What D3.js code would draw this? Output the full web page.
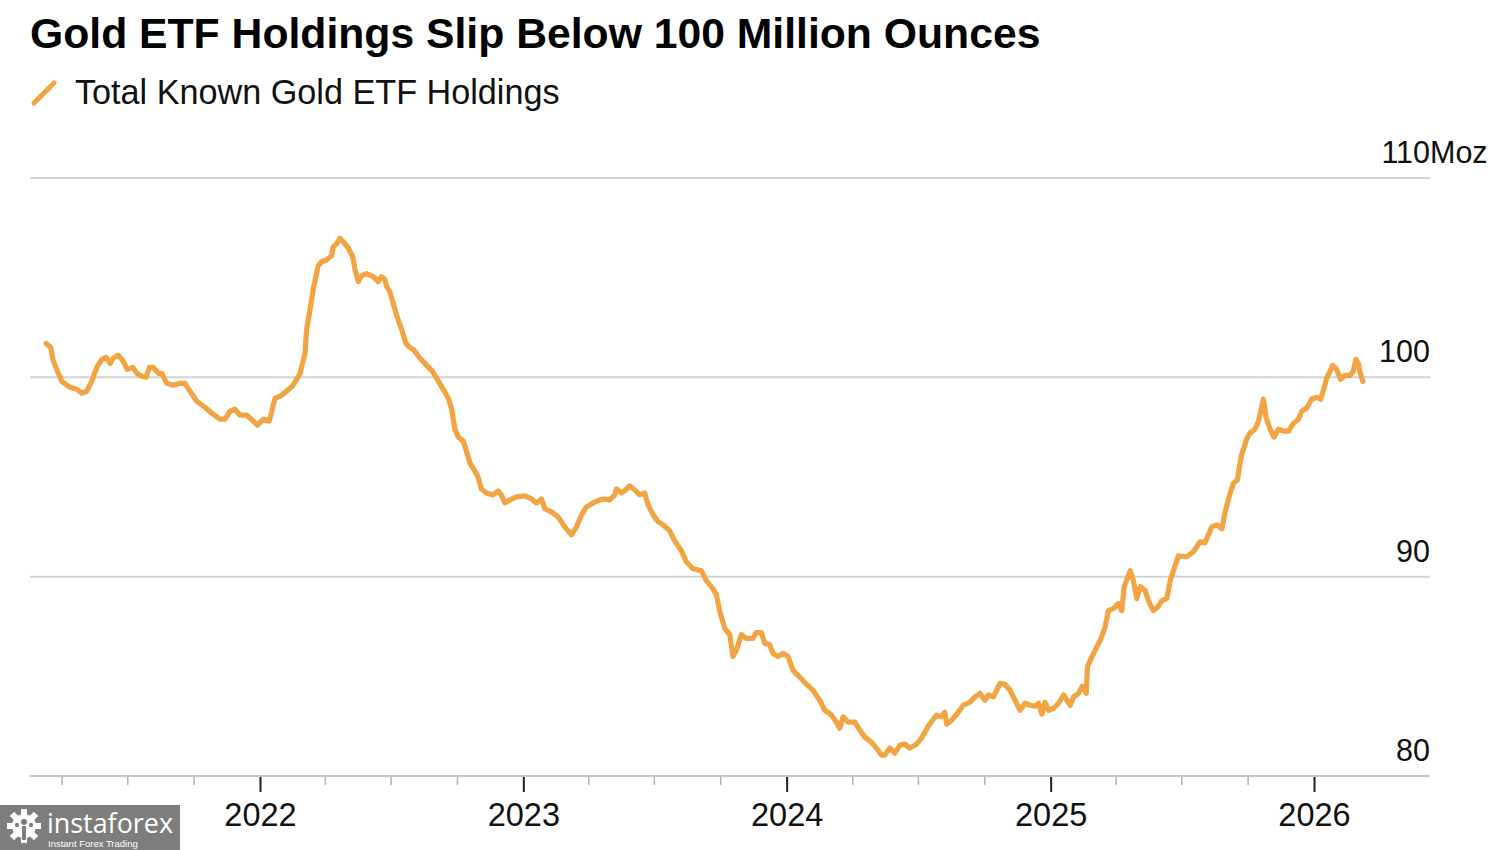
<!DOCTYPE html>
<html>
<head>
<meta charset="utf-8">
<script src="https://cdn.jsdelivr.net/npm/d3@7"></script>
<style>
  html, body { margin: 0; padding: 0; background: #ffffff; }
  svg { display: block; font-family: "Liberation Sans", Arial, Helvetica, sans-serif; }
</style>
</head>
<body>
<svg id="chart" width="1500" height="850"></svg>
<script>
// ---- Data ----
const title = "Gold ETF Holdings Slip Below 100 Million Ounces";
const seriesName = "Total Known Gold ETF Holdings";
const yTicks = [80, 90, 100, 110];
const yUnit = "Moz";
const yearTicks = [2022, 2023, 2024, 2025, 2026];

// decimal-year dates of the observations
const dates = [
  2021.188, 2021.206, 2021.213, 2021.228, 2021.247, 2021.279, 2021.304, 2021.323, 2021.342, 2021.361,
  2021.380, 2021.399, 2021.416, 2021.431, 2021.443, 2021.462, 2021.481, 2021.496, 2021.517, 2021.532,
  2021.551, 2021.567, 2021.580, 2021.595, 2021.614, 2021.627, 2021.646, 2021.671, 2021.696, 2021.715,
  2021.734, 2021.760, 2021.791, 2021.817, 2021.848, 2021.867, 2021.886, 2021.905, 2021.924, 2021.950,
  2021.975, 2021.990, 2022.013, 2022.035, 2022.057, 2022.082, 2022.101, 2022.126, 2022.152, 2022.171,
  2022.177, 2022.190, 2022.202, 2022.221, 2022.234, 2022.253, 2022.272, 2022.278, 2022.291, 2022.304,
  2022.316, 2022.335, 2022.352, 2022.361, 2022.373, 2022.386, 2022.405, 2022.430, 2022.449, 2022.462,
  2022.474, 2022.481, 2022.493, 2022.506, 2022.519, 2022.538, 2022.554, 2022.569, 2022.582, 2022.607,
  2022.633, 2022.655, 2022.671, 2022.696, 2022.715, 2022.728, 2022.740, 2022.753, 2022.772, 2022.784,
  2022.797, 2022.809, 2022.828, 2022.841, 2022.860, 2022.885, 2022.904, 2022.917, 2022.930, 2022.949,
  2022.974, 2023.006, 2023.031, 2023.050, 2023.069, 2023.082, 2023.107, 2023.132, 2023.157, 2023.183,
  2023.202, 2023.221, 2023.240, 2023.265, 2023.290, 2023.309, 2023.328, 2023.347, 2023.354, 2023.373,
  2023.392, 2023.404, 2023.423, 2023.442, 2023.461, 2023.474, 2023.493, 2023.512, 2023.531, 2023.556,
  2023.575, 2023.600, 2023.619, 2023.644, 2023.676, 2023.695, 2023.720, 2023.733, 2023.746, 2023.765,
  2023.784, 2023.796, 2023.809, 2023.828, 2023.847, 2023.872, 2023.885, 2023.904, 2023.917, 2023.935,
  2023.948, 2023.967, 2023.986, 2024.005, 2024.024, 2024.043, 2024.068, 2024.100, 2024.125, 2024.144,
  2024.170, 2024.189, 2024.201, 2024.214, 2024.233, 2024.258, 2024.277, 2024.296, 2024.321, 2024.340,
  2024.359, 2024.372, 2024.391, 2024.410, 2024.429, 2024.448, 2024.467, 2024.492, 2024.511, 2024.536,
  2024.567, 2024.586, 2024.599, 2024.606, 2024.625, 2024.644, 2024.669, 2024.694, 2024.713, 2024.732,
  2024.751, 2024.764, 2024.783, 2024.808, 2024.827, 2024.846, 2024.865, 2024.884, 2024.903, 2024.922,
  2024.941, 2024.954, 2024.967, 2024.979, 2024.992, 2025.011, 2025.030, 2025.049, 2025.062, 2025.074,
  2025.087, 2025.106, 2025.119, 2025.135, 2025.140, 2025.157, 2025.169, 2025.182, 2025.194, 2025.207,
  2025.219, 2025.238, 2025.257, 2025.270, 2025.279, 2025.302, 2025.314, 2025.327, 2025.340, 2025.359,
  2025.371, 2025.390, 2025.409, 2025.422, 2025.441, 2025.454, 2025.466, 2025.485, 2025.517, 2025.542,
  2025.567, 2025.586, 2025.612, 2025.631, 2025.650, 2025.662, 2025.675, 2025.694, 2025.709, 2025.719,
  2025.725, 2025.744, 2025.757, 2025.776, 2025.789, 2025.808, 2025.818, 2025.833, 2025.848, 2025.865,
  2025.884, 2025.903, 2025.922, 2025.941, 2025.953, 2025.972, 2025.991, 2026.010, 2026.025, 2026.038,
  2026.048, 2026.071, 2026.086, 2026.101, 2026.118, 2026.137, 2026.149, 2026.159, 2026.168, 2026.176,
  2026.186
];

// holdings, million troy ounces
const holdings = [
  101.7, 101.5, 100.9, 100.4, 99.8, 99.5, 99.4, 99.2, 99.3, 99.8,
  100.5, 100.9, 101.0, 100.7, 100.97, 101.1, 100.8, 100.4, 100.5, 100.2,
  100.05, 100.0, 100.5, 100.5, 100.2, 100.2, 99.7, 99.6, 99.7, 99.7,
  99.3, 98.8, 98.5, 98.2, 97.9, 97.9, 98.3, 98.4, 98.1, 98.1,
  97.8, 97.6, 97.9, 97.8, 98.95, 99.1, 99.3, 99.6, 100.2, 101.2,
  102.4, 103.4, 104.4, 105.6, 105.8, 105.9, 106.1, 106.55, 106.7, 106.98,
  106.8, 106.5, 106.05, 105.4, 104.8, 105.1, 105.2, 105.05, 104.8, 105.05,
  104.9, 104.55, 104.3, 103.7, 103.1, 102.4, 101.7, 101.5, 101.4, 100.97,
  100.6, 100.3, 99.95, 99.4, 98.95, 98.4, 97.4, 97.0, 96.8, 96.3,
  95.7, 95.45, 95.0, 94.4, 94.2, 94.1, 94.3, 94.1, 93.7, 93.85,
  94.0, 94.05, 93.9, 93.7, 93.9, 93.4, 93.25, 93.0, 92.5, 92.1,
  92.5, 93.1, 93.5, 93.7, 93.85, 93.9, 93.85, 94.1, 94.4, 94.2,
  94.4, 94.55, 94.35, 94.1, 94.2, 93.6, 93.1, 92.75, 92.6, 92.3,
  91.8, 91.3, 90.75, 90.4, 90.3, 89.8, 89.4, 89.1, 88.25, 87.4,
  87.1, 86.0, 86.3, 87.1, 86.9, 86.9, 87.2, 87.2, 86.65, 86.6,
  86.15, 86.0, 86.15, 86.0, 85.3, 85.05, 84.7, 84.3, 83.8, 83.3,
  83.05, 82.7, 82.4, 82.97, 82.7, 82.7, 82.3, 81.95, 81.7, 81.4,
  81.05, 81.05, 81.4, 81.15, 81.55, 81.6, 81.4, 81.6, 81.9, 82.5,
  83.05, 82.97, 83.2, 82.6, 82.8, 83.1, 83.55, 83.7, 83.97, 84.15,
  83.8, 84.06, 83.97, 84.65, 84.6, 84.3, 83.8, 83.3, 83.65, 83.55,
  83.5, 83.65, 83.1, 83.7, 83.3, 83.4, 83.65, 84.06, 83.8, 83.55,
  83.97, 84.15, 84.5, 84.15, 85.5, 86.0, 86.3, 86.65, 87.0, 87.5,
  88.3, 88.4, 88.65, 88.3, 89.5, 90.3, 89.8, 88.9, 89.5, 89.3,
  88.8, 88.3, 88.5, 88.8, 88.9, 89.8, 90.3, 91.05, 91.0, 91.25,
  91.75, 91.7, 92.5, 92.6, 92.4, 93.2, 93.9, 94.7, 94.85, 95.7,
  96.1, 96.9, 97.2, 97.4, 97.8, 98.9, 98.0, 97.4, 97.0, 97.4,
  97.3, 97.3, 97.7, 97.9, 98.3, 98.45, 98.9, 99.0, 98.9, 99.45,
  99.95, 100.6, 100.4, 99.9, 100.1, 100.1, 100.3, 100.9, 100.7, 100.2,
  99.8
];

// ---- Helpers ----
function toDate(t) {
  const y = Math.floor(t);
  const s = Date.UTC(y, 0, 1), e = Date.UTC(y + 1, 0, 1);
  return new Date(s + (t - y) * (e - s));
}
const data = dates.map((d, i) => ({ date: toDate(d), value: holdings[i] }));

// ---- Layout ----
const svg = d3.select("#chart");
const plotLeft = 30, plotRight = 1430;
const orange = "#f2a442";

const x = d3.scaleUtc()
  .domain([new Date(Date.UTC(2022, 0, 1)), new Date(Date.UTC(2026, 0, 1))])
  .range([260, 1314]);
const y = d3.scaleLinear().domain([80, 110]).range([776, 178]);

// Title
svg.append("text")
  .attr("x", 30).attr("y", 48)
  .attr("font-size", 42.7).attr("font-weight", "bold")
  .attr("fill", "#000")
  .text(title);

// Legend
svg.append("line")
  .attr("x1", 34).attr("y1", 103).attr("x2", 54).attr("y2", 83)
  .attr("stroke", orange).attr("stroke-width", 5).attr("stroke-linecap", "round");
svg.append("text")
  .attr("x", 75).attr("y", 104)
  .attr("font-size", 34.2).attr("fill", "#111")
  .text(seriesName);

// Gridlines
svg.append("g").selectAll("line")
  .data(yTicks.filter(v => v !== 80))
  .join("line")
  .attr("x1", plotLeft).attr("x2", plotRight)
  .attr("y1", d => y(d)).attr("y2", d => y(d))
  .attr("stroke", "#d2d2d2").attr("stroke-width", 2);

// Y labels
const yLab = svg.append("g").attr("font-size", 30.5).attr("fill", "#111");
yLab.selectAll("text.num")
  .data(yTicks)
  .join("text")
  .attr("class", "num")
  .attr("x", plotRight).attr("y", d => y(d) - 15)
  .attr("text-anchor", "end")
  .text(d => d);
yLab.append("text")
  .attr("x", plotRight).attr("y", y(110) - 15)
  .attr("text-anchor", "start")
  .text(yUnit);

// X axis: quarterly minor ticks, yearly major ticks with labels
const quarterTicks = d3.utcMonth.every(3).range(new Date(Date.UTC(2021, 3, 1)), new Date(Date.UTC(2026, 0, 2)));
const minorAxis = d3.axisBottom(x).tickValues(quarterTicks).tickSize(9).tickFormat("");
const gMinor = svg.append("g").attr("transform", "translate(0,776)").call(minorAxis);
gMinor.select(".domain").remove();
gMinor.selectAll(".tick line").attr("stroke", "#b5b5b5").attr("stroke-width", 1.6);

const majorAxis = d3.axisBottom(x)
  .tickValues(yearTicks.map(yr => new Date(Date.UTC(yr, 0, 1))))
  .tickSize(16).tickPadding(11)
  .tickFormat(d3.utcFormat("%Y"));
const gMajor = svg.append("g").attr("transform", "translate(0,776)").call(majorAxis);
gMajor.select(".domain").remove();
gMajor.selectAll(".tick line").attr("stroke", "#222").attr("stroke-width", 2);
gMajor.selectAll(".tick text")
  .attr("font-size", 32.5).attr("fill", "#111")
  .attr("font-family", "'Liberation Sans', Arial, sans-serif");

// baseline axis line
svg.append("line")
  .attr("x1", plotLeft).attr("x2", plotRight)
  .attr("y1", y(80)).attr("y2", y(80))
  .attr("stroke", "#c4c4c4").attr("stroke-width", 2);

// Series line
const line = d3.line().x(d => x(d.date)).y(d => y(d.value)).curve(d3.curveLinear);
svg.append("path")
  .datum(data)
  .attr("d", line)
  .attr("fill", "none")
  .attr("stroke", orange)
  .attr("stroke-width", 5.2)
  .attr("stroke-linejoin", "round")
  .attr("stroke-linecap", "round");

// Watermark (instaforex)
const wm = svg.append("g");
wm.append("rect").attr("x", 0).attr("y", 805).attr("width", 180).attr("height", 45).attr("fill", "#7d7d7d");
// gear logo
const gear = wm.append("g").attr("transform", "translate(24,826)");
d3.range(8).forEach(i => {
  gear.append("rect")
    .attr("x", -3).attr("y", -17).attr("width", 6).attr("height", 8)
    .attr("fill", "#fff")
    .attr("transform", `rotate(${i * 45})`);
});
gear.append("circle").attr("r", 12).attr("fill", "#fff");
gear.append("circle").attr("cx", 0).attr("cy", -4).attr("r", 3).attr("fill", "#7d7d7d");
gear.append("rect").attr("x", -2).attr("y", 0).attr("width", 4).attr("height", 14).attr("fill", "#7d7d7d");
gear.append("circle").attr("cx", -7).attr("cy", -1).attr("r", 2.2).attr("fill", "#7d7d7d");
gear.append("circle").attr("cx", 7).attr("cy", -1).attr("r", 2.2).attr("fill", "#7d7d7d");
wm.append("text").attr("x", 47).attr("y", 833)
  .attr("font-size", 27).attr("fill", "#fff")
  .attr("font-family", "'Open Sans', 'Liberation Sans', sans-serif")
  .attr("textLength", 126).attr("lengthAdjust", "spacingAndGlyphs")
  .text("instaforex");
wm.append("text").attr("x", 48).attr("y", 847)
  .attr("font-size", 9.5).attr("fill", "#fff")
  .attr("font-family", "'Liberation Sans', sans-serif")
  .text("Instant Forex Trading");
</script>
</body>
</html>
